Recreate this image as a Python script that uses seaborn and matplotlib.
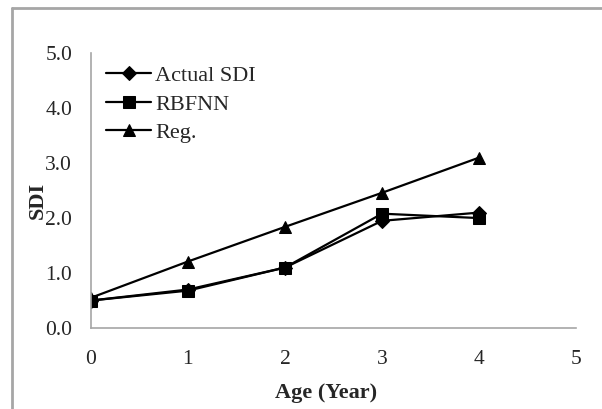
import matplotlib
matplotlib.use("Agg")
import matplotlib.pyplot as plt
import seaborn as sns
import pandas as pd
from matplotlib.lines import Line2D

# Datos
edad = [0, 1, 2, 3, 4]
sdi_real = [0.50, 0.70, 1.10, 1.95, 2.10]
sdi_rbfnn = [0.50, 0.68, 1.10, 2.08, 2.00]
sdi_reg = [0.55, 1.21, 1.84, 2.46, 3.10]

series = ["Actual SDI", "RBFNN", "Reg."]
marcadores = ["D", "s", "^"]
tamanos = [7, 9, 9]

df = pd.DataFrame({
    "Age": edad * 3,
    "SDI": sdi_real + sdi_rbfnn + sdi_reg,
    "Serie": [s for s in series for _ in edad],
})

sns.set_style("white")
plt.rcParams['font.family'] = ['Liberation Serif', 'DejaVu Serif']

fig = plt.figure(figsize=(6.02, 4.09), dpi=100)
ax = fig.add_axes([0.151, 0.198, 0.806, 0.672])

for s, m, t in zip(series, marcadores, tamanos):
    sub = df[df["Serie"] == s]
    sns.lineplot(data=sub, x="Age", y="SDI", ax=ax, color="black", marker=m,
                 markersize=t, markeredgecolor="black", linewidth=1.6, label=s)

ax.set_xlim(0, 5)
ax.set_ylim(0, 5)
ax.set_xticks(range(0, 6))
ax.set_yticks([0, 1, 2, 3, 4, 5])
ax.set_yticklabels([f"{v:.1f}" for v in [0, 1, 2, 3, 4, 5]])
ax.tick_params(axis="x", length=0, labelsize=15.5, pad=16)
ax.tick_params(axis="y", length=0, labelsize=15.5, pad=13.5)
ax.set_xlabel("Age (Year)", fontsize=16, fontweight="bold")
ax.set_ylabel("SDI", fontsize=16, fontweight="bold")
ax.xaxis.set_label_coords(0.485, -0.2)
ax.yaxis.set_label_coords(-0.088, 0.465)

for lado in ["top", "right"]:
    ax.spines[lado].set_visible(False)
for lado in ["left", "bottom"]:
    ax.spines[lado].set_color("#a6a6a6")
    ax.spines[lado].set_linewidth(1.2)

leg = ax.legend(loc="upper left", frameon=False, fontsize=16, handlelength=2.0,
                handletextpad=0.2, labelspacing=0.35, borderaxespad=0.3,
                bbox_to_anchor=(0.0, 1.011))

# marco exterior gris (solo arriba e izquierda)
fig.add_artist(Line2D([0.02, 1.0], [0.98, 0.98], color="#a6a6a6", lw=2,
                      transform=fig.transFigure))
fig.add_artist(Line2D([0.02, 0.02], [0.0, 0.98], color="#a6a6a6", lw=2,
                      transform=fig.transFigure))

fig.savefig("out.png", dpi=100)
